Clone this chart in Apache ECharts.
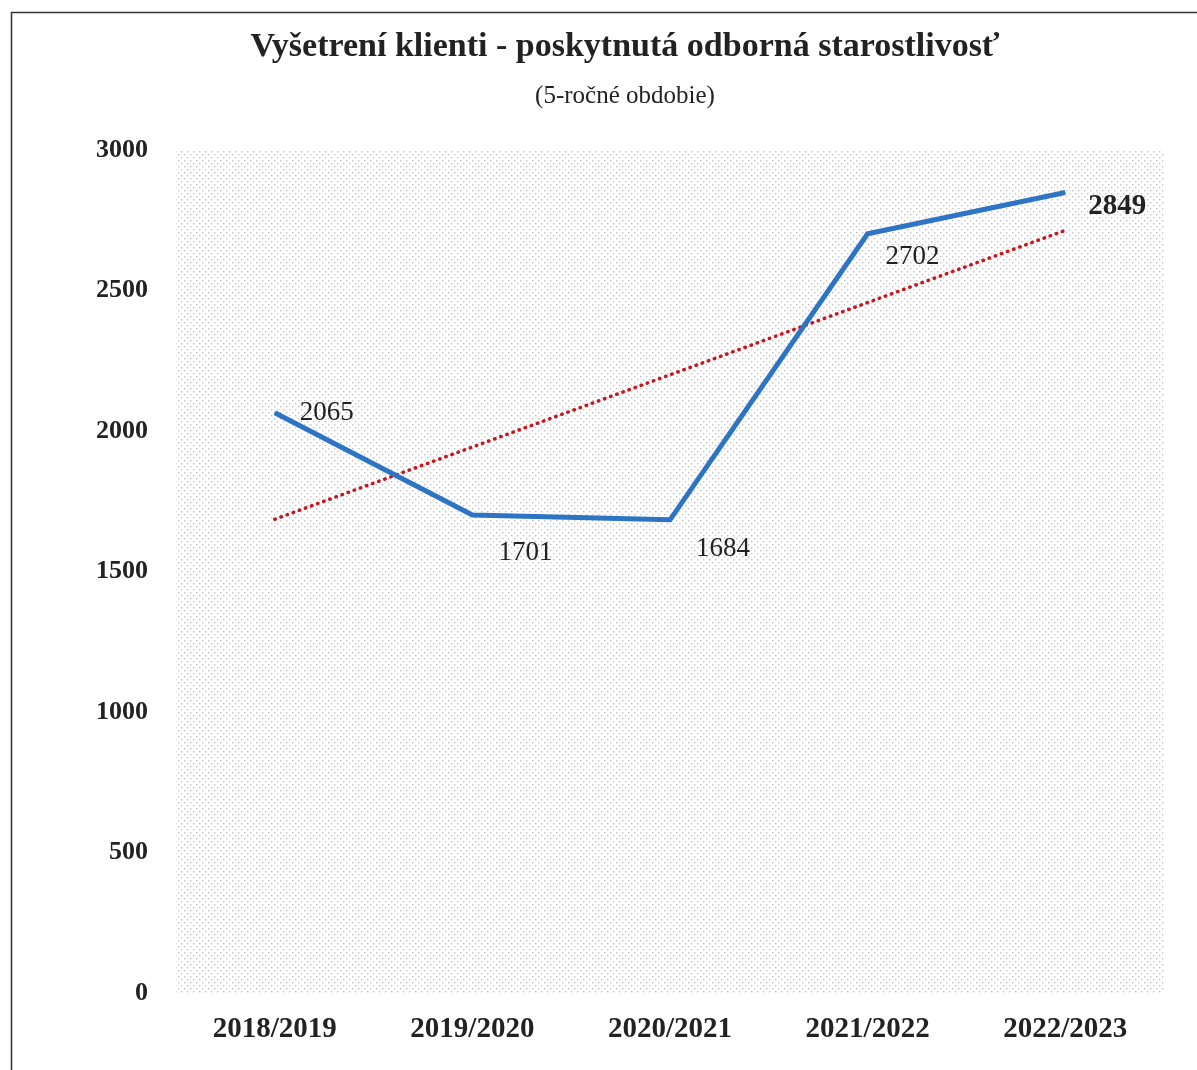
<!DOCTYPE html>
<html>
<head>
<meta charset="utf-8">
<script src="https://cdn.jsdelivr.net/npm/echarts@6/dist/echarts.min.js"></script>
<style>
  html, body { margin: 0; padding: 0; background: #fff; }
  #chart { width: 1197px; height: 1070px; }
</style>
</head>
<body>
<div id="chart"></div>
<script>
var years = ['2018/2019', '2019/2020', '2020/2021', '2021/2022', '2022/2023']
var clients = [2065, 1701, 1684, 2702, 2849]
// linear trend at the first and last year
var trendValues = [1686, null, null, null, 2714]

// where each value label sits relative to its point
var labelOffsets = [[52, 0], [53, 38], [53, 29], [45, 23], [52, 14]]

var serif = '"Liberation Serif", "DejaVu Serif", serif'

// dotted fill of the plot area
function dotPattern() {
  var c = document.createElement('canvas')
  c.width = 6
  c.height = 6
  var ctx = c.getContext('2d')
  ctx.fillStyle = '#fff'
  ctx.fillRect(0, 0, 6, 6)
  ctx.fillStyle = '#c2c2c2'
  ctx.fillRect(1, 1, 1.4, 1.4)
  ctx.fillRect(4, 4, 1.4, 1.4)
  return c
}

var chart = echarts.init(document.getElementById('chart'))

chart.setOption({
  animation: false,
  backgroundColor: '#fff',
  title: {
    text: 'Vyšetrení klienti - poskytnutá odborná starostlivosť',
    subtext: '(5-ročné obdobie)',
    left: 620,
    textAlign: 'center',
    top: 25,
    itemGap: 20,
    textStyle: {
      fontFamily: serif,
      fontWeight: 'bold',
      fontSize: 34,
      color: '#222'
    },
    subtextStyle: {
      fontFamily: serif,
      fontSize: 25,
      color: '#222'
    }
  },
  graphic: [{
    type: 'rect',
    left: 9,
    top: 10,
    shape: { width: 1400, height: 1200 },
    style: { fill: 'none', stroke: '#333', lineWidth: 1.5 },
    silent: true
  }],
  grid: {
    left: 176,
    right: 33,
    top: 150,
    bottom: 77,
    show: true,
    borderWidth: 0,
    backgroundColor: { image: dotPattern(), repeat: 'repeat' }
  },
  xAxis: {
    type: 'category',
    data: years,
    boundaryGap: true,
    axisLine: { show: false },
    axisTick: { show: false },
    axisLabel: {
      margin: 22,
      fontFamily: serif,
      fontWeight: 'bold',
      fontSize: 29,
      color: '#222'
    }
  },
  yAxis: {
    type: 'value',
    min: 0,
    max: 3000,
    interval: 500,
    splitLine: { show: false },
    axisLine: { show: false },
    axisTick: { show: false },
    axisLabel: {
      margin: 28,
      formatter: function(v) { return String(v) },
      fontFamily: serif,
      fontWeight: 'bold',
      fontSize: 26,
      color: '#222'
    }
  },
  series: [
    {
      name: 'Trend',
      type: 'line',
      data: trendValues,
      connectNulls: true,
      showSymbol: false,
      lineStyle: { color: '#c8161d', width: 3.5, type: [0.5, 6], cap: 'round' },
      z: 2
    },
    {
      name: 'Klienti',
      type: 'line',
      data: clients.map(function(v, i) {
        var last = i === clients.length - 1
        return {
          value: v,
          label: {
            offset: labelOffsets[i],
            fontWeight: last ? 'bold' : 'normal',
            fontSize: last ? 29 : 27
          }
        }
      }),
      showSymbol: true,
      symbol: 'circle',
      symbolSize: 1,
      itemStyle: { color: '#2e74c4' },
      lineStyle: { color: '#2e74c4', width: 5, join: 'miter' },
      label: {
        show: true,
        position: 'inside',
        fontFamily: serif,
        fontSize: 27,
        color: '#222'
      },
      z: 3
    }
  ]
})
</script>
</body>
</html>
